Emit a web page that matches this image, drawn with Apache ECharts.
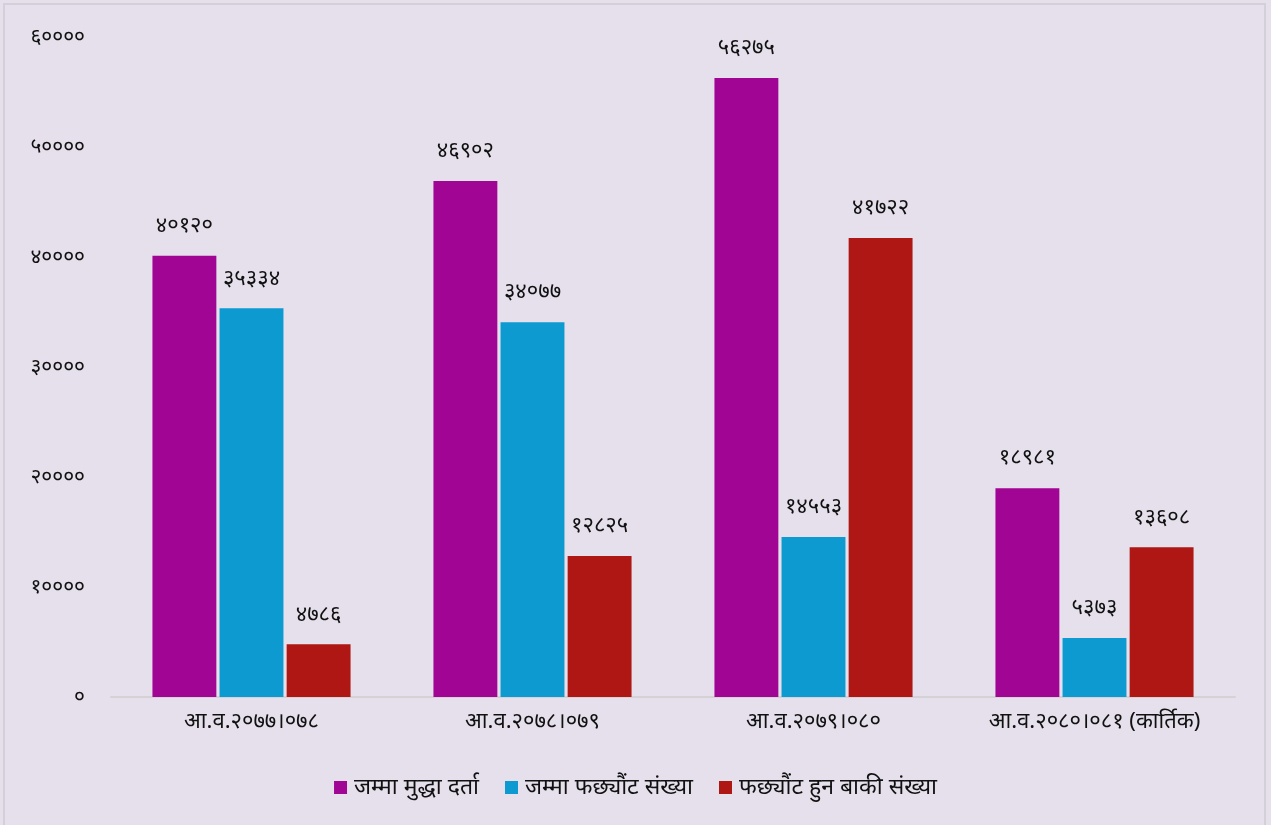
<!DOCTYPE html>
<html><head><meta charset="utf-8">
<script src="https://cdn.jsdelivr.net/npm/echarts@6/dist/echarts.min.js"></script>
<style>
html,body{margin:0;padding:0;background:#e6e0ec;}
#c{position:absolute;left:0;top:0;width:1271px;height:825px;}
#b{position:absolute;left:3px;top:3px;width:1259px;height:830px;border:2px solid #d3d0d8;pointer-events:none;}
</style></head>
<body><div id="c"></div><div id="b"></div>
<script>
const categories = ['आ.व.२०७७।०७८','आ.व.२०७८।०७९','आ.व.२०७९।०८०','आ.व.२०८०।०८१ (कार्तिक)'];
const seriesNames = ['जम्मा मुद्धा दर्ता','जम्मा फछ्यौंट संख्या','फछ्यौंट हुन बाकी संख्या'];
const registered = [40120, 46902, 56275, 18981];
const settled = [35334, 34077, 14553, 5373];
const pending = [4786, 12825, 41722, 13608];
const colors = ['#a10594','#0c9ad0','#ae1713'];
const devDigits = '०१२३४५६७८९';
function toDev(n){return String(n).replace(/[0-9]/g,d=>devDigits[+d]);}
const font = '"Noto Sans", "DejaVu Sans", sans-serif';
const chart = echarts.init(document.getElementById('c'));
const mk = (name, data, i) => ({
  name, type:'bar', data, barGap:'5%', barCategoryGap:'29.5%',
  itemStyle:{color:colors[i]},
  label:{show:true, position:'top', distance:19, color:'#111', fontSize:22, fontFamily:font,
    formatter:p=>toDev(p.value)}
});
chart.setOption({
  backgroundColor:'#e6e0ec',
  animation:false,
  grid:{left:111, right:36, top:37, bottom:128},
  legend:{top:771, left:'center', itemWidth:13, itemHeight:13, itemGap:26,
    icon:'rect', textStyle:{fontSize:23, color:'#111', fontFamily:font, padding:[0,0,0,2]}},
  xAxis:{type:'category', data:categories,
    axisLine:{lineStyle:{color:'#d5d2d6', width:2}}, axisTick:{show:false},
    axisLabel:{fontSize:22, color:'#111', margin:14, fontFamily:font}},
  yAxis:{type:'value', min:0, max:60000, interval:10000,
    axisLine:{show:false}, axisTick:{show:false}, splitLine:{show:false},
    axisLabel:{fontSize:21, color:'#111', margin:26, fontFamily:font, formatter:v=>toDev(v)}},
  series:[mk(seriesNames[0],registered,0), mk(seriesNames[1],settled,1), mk(seriesNames[2],pending,2)]
});
</script></body></html>
